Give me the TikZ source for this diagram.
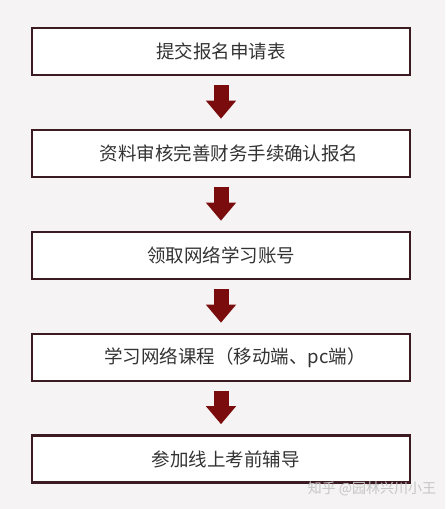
\documentclass[tikz,border=0pt]{standalone}
\usepackage{fontspec}
\newfontfamily\cjk{Noto Sans CJK SC}
\usetikzlibrary{arrows.meta}
\definecolor{boxline}{HTML}{3B1A22}
\definecolor{arrowred}{HTML}{7A0C0E}
\definecolor{txt}{HTML}{333333}
\definecolor{bg}{HTML}{F5F3F3}
\tikzset{
  stepbox/.style={draw=boxline, line width=2.6pt, fill=white, minimum width=378pt, minimum height=47pt, inner sep=0pt, font=\cjk\fontsize{18.5}{20}\selectfont, text=txt},
  flowarrow/.style={draw=arrowred, line width=15pt, -{Triangle[width=29pt,length=18pt]}, arrowred, shorten <=9pt, shorten >=10pt}
}
\begin{document}
\begin{tikzpicture}[x=1pt,y=-1pt]
\fill[bg] (0,0) rectangle (445,509);
\useasboundingbox (0,0) rectangle (445,509);
\node[stepbox] (b1) at (221,51.5) {提交报名申请表};
\node[stepbox] (b2) at (221,153.5) {\hspace*{16pt}资料审核完善财务手续确认报名};
\node[stepbox] (b3) at (221,255.5) {领取网络学习账号};
\node[stepbox] (b4) at (221,357.5) {\hspace*{28pt}学习网络课程（移动端、pc端）};
\node[stepbox] (b5) at (221,459) {\hspace*{9pt}参加线上考前辅导};
\draw[flowarrow] (b1.south) -- (b2.north);
\draw[flowarrow] (b2.south) -- (b3.north);
\draw[flowarrow] (b3.south) -- (b4.north);
\draw[flowarrow] (b4.south) -- (b5.north);
\node[font=\cjk\fontsize{14}{16}\selectfont, text=gray!45] (wm) at (372,489) {知乎 @园林兴川小王};
\end{tikzpicture}
\end{document}
